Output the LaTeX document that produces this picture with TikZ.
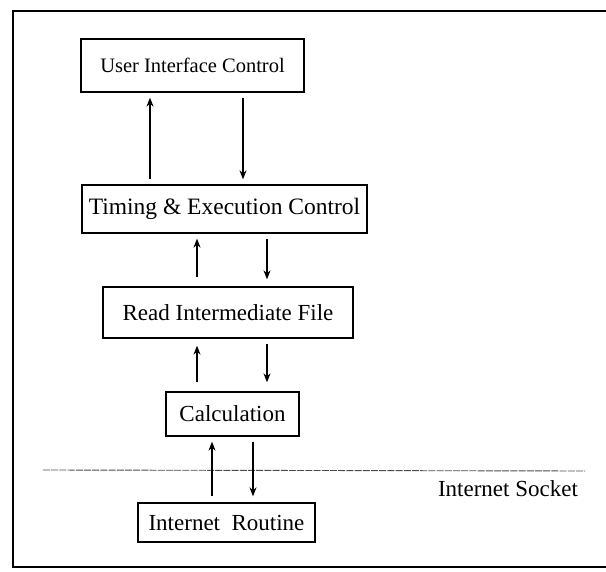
\documentclass[tikz,border=0pt]{standalone}
\usepackage{fontspec}
\setmainfont{Liberation Serif}
\usetikzlibrary{arrows.meta}
\begin{document}
\begin{tikzpicture}[x=1pt,y=-1pt,
  blk/.style={draw, line width=1.3pt, inner sep=0pt, font=\fontsize{23}{27}\selectfont},
  arr/.style={line width=1.3pt, -{Stealth[length=9pt,width=7pt]}, shorten <=5pt, shorten >=5pt},
  frame/.style={line width=1.4pt}]
\useasboundingbox (0,0) rectangle (606,572);
% outer frame, open on the right
\draw[frame] (606,11) -- (13,11) -- (13,567) -- (606,567);

% blocks
\node[blk, minimum width=223pt, minimum height=53pt, font=\fontsize{20.5}{24}\selectfont] (ui) at (192.5,65.5) {User Interface Control};
\node[blk, minimum width=285pt, minimum height=48pt, font=\fontsize{23.5}{27}\selectfont] (te) at (224.5,209) {Timing \& Execution Control};
\node[blk, minimum width=250pt, minimum height=51pt] (rf) at (228,312.5) {Read Intermediate File};
\node[blk, minimum width=133pt, minimum height=44pt] (ca) at (232.5,414) {Calculation};
\node[blk, minimum width=177pt, minimum height=39pt] (ir) at (226.5,522.5) {Internet\ \ Routine};

% socket boundary
\coordinate (sl) at (43,470);
\coordinate (sr) at (585,471);
\draw[gray!60!black, line width=0.9pt, dash pattern=on 7pt off 1.2pt] (sl) -- (sr);
\node[font=\fontsize{23}{27}\selectfont, inner sep=0pt] (sock) at (508,489) {Internet Socket};

% data flow between blocks
\draw[arr] (150,0 |- te.north) -- (150,0 |- ui.south);
\draw[arr] (243,0 |- ui.south) -- (243,0 |- te.north);
\draw[arr, shorten <=9pt] (197,0 |- rf.north) -- (197,0 |- te.south);
\draw[arr, shorten >=7pt] (267,0 |- te.south) -- (267,0 |- rf.north);
\draw[arr, shorten <=9pt, shorten >=7pt] (197,0 |- ca.north) -- (197,0 |- rf.south);
\draw[arr, shorten >=9pt] (267,0 |- rf.south) -- (267,0 |- ca.north);
\draw[arr, shorten <=6pt] (212,0 |- ir.north) -- (212,0 |- ca.south);
\draw[arr, shorten >=6pt] (253,0 |- ca.south) -- (253,0 |- ir.north);
\end{tikzpicture}
\end{document}
